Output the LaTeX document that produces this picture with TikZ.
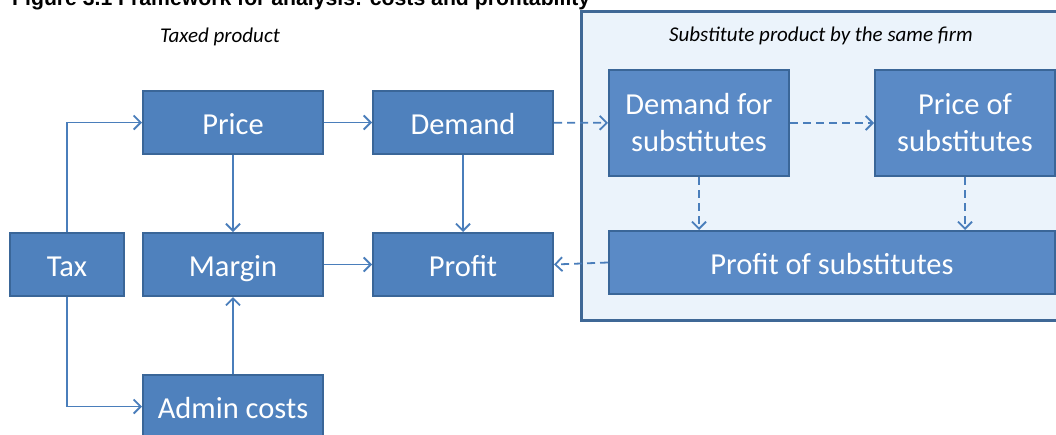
\documentclass[tikz,border=0pt]{standalone}
\usepackage{fontspec}
\setmainfont{Carlito}
\newfontfamily\titlefont{Liberation Sans}
\usetikzlibrary{arrows.meta,positioning,calc}

\definecolor{boxfill}{HTML}{4F81BD}
\definecolor{subfill}{HTML}{5A8AC6}
\definecolor{boxline}{HTML}{3A6698}
\definecolor{arrowcol}{HTML}{4A7EBB}
\definecolor{areafill}{HTML}{EBF3FB}
\definecolor{arealine}{HTML}{3F6896}

\begin{document}
\begin{tikzpicture}[x=1pt, y=-1pt,
  box/.style={draw=boxline, line width=2pt, fill=boxfill, text=white, inner sep=0pt,
    minimum width=180pt, minimum height=63pt, align=center,
    font=\fontsize{30.5}{37}\selectfont},
  onebox/.style={box, text height=24pt, text depth=0pt},
  subbox/.style={box, fill=subfill},
  link/.style={draw=arrowcol, line width=1.8pt, -{Straight Barb[length=7pt,width=14pt]}},
  sublink/.style={link, dash pattern=on 8pt off 5pt},
  caption/.style={font=\fontsize{21}{25}\selectfont\itshape}]
\useasboundingbox (0,0) rectangle (1056,434);
\clip (0,0) rectangle (1056,434);

% 标题
\node[anchor=base west, inner sep=0pt, font=\titlefont\fontsize{21.2}{25}\selectfont\bfseries] (title) at (12,5) {Figure 3.1 Framework for analysis: costs and profitability};

% 区域
\draw[draw=arealine, fill=areafill, line width=3pt] (581,11) rectangle (1080,320);
\node[caption] (taxed) at (220,37) {Taxed product};
\node[caption] (subst) at (821,36) {Substitute product by the same firm};

% 对象
\node[onebox, minimum width=114pt] (tax) at (67,264.5) {Tax};
\node[onebox] (price) at (233,122.5) {Price};
\node[onebox] (demand) at (463,122.5) {Demand};
\node[onebox] (margin) at (233,264.5) {Margin};
\node[onebox] (profit) at (463,264.5) {Profit};
\node[onebox] (admin) at (233,406.5) {Admin costs};
\node[subbox, minimum height=106pt] (subdemand) at (699,123) {Demand for\\substitutes};
\node[subbox, minimum height=106pt] (subprice) at (965,123) {Price of\\substitutes};
\node[onebox, fill=subfill, minimum width=446pt] (subprofit) at (832,262.5) {Profit of substitutes};

% 连线
\draw[link] (tax.north) |- (price.west);
\draw[link] (tax.south) |- (admin.west);
\draw[link] (price) -- (demand);
\draw[link] (price) -- (margin);
\draw[link] (admin) -- (margin);
\draw[link] (demand) -- (profit);
\draw[link] (margin) -- (profit);
\draw[sublink] (demand) -- (subdemand);
\draw[sublink] (subdemand) -- (subprice);
\draw[sublink] (subdemand.south) -- (subdemand.south |- subprofit.north);
\draw[sublink] (subprice.south) -- (subprice.south |- subprofit.north);
\draw[sublink] (subprofit.west) -- (profit.east);
\end{tikzpicture}
\end{document}
